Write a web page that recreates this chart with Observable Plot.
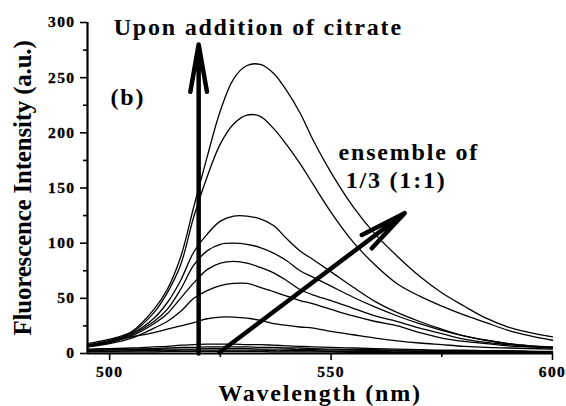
<!DOCTYPE html>
<html><head><meta charset="utf-8">
<script src="https://cdn.jsdelivr.net/npm/d3@7"></script>
<script src="https://cdn.jsdelivr.net/npm/@observablehq/plot@0.6"></script>
<style>body{margin:0;background:#fff}</style>
</head><body><div id="chart"></div>
<script>
const xDomain = [495, 600];
const yDomain = [0, 300];
const xMajorTicks = [500, 550, 600];
const xMinorTicks = [525, 575];
const yMajorTicks = [0, 50, 100, 150, 200, 250, 300];
const yMinorTicks = [25, 75, 125, 175, 225, 275];

const wavelength = [495, 500, 505, 510, 513, 516, 519, 522, 525, 528, 531, 534, 537, 540, 543, 546, 550, 555, 560, 565, 570, 575, 580, 585, 590, 595, 600];
const curve01 = [9, 13, 20, 40, 58, 87, 133, 178, 220, 249, 261, 262, 254, 238, 218, 193, 164, 133, 108, 88, 70, 55, 43, 32, 24, 19, 15];
const curve02 = [8, 12, 19, 37, 55, 80, 124, 160, 190, 208, 216, 215, 204, 189, 172, 153, 128, 101, 80, 63, 52, 43, 35, 28, 21, 16, 12];
const curve03 = [7, 11, 18, 32, 46, 66, 92, 108, 120, 124.5, 124.5, 122, 116, 104, 93, 85, 74, 60, 47, 37, 29, 22, 16, 12, 9, 7, 6];
const curve04 = [7, 10, 17, 29, 40, 58, 80, 93, 99, 100, 99, 96, 91, 84, 75, 69, 61, 51, 42, 34, 27, 21, 16, 12, 9, 7, 5.5];
const curve05 = [6, 10, 16, 27, 36, 50, 64, 76, 82, 83.5, 82, 78, 73, 66, 58, 53, 48, 41, 34, 29, 23, 18, 13, 10, 8, 6, 5];
const curve06 = [6, 9, 14, 23, 29, 38, 50, 57, 61.5, 63.5, 63.5, 60, 56, 52, 48, 45, 40, 34, 29, 25, 19, 14, 11, 9, 7, 6, 5];
const curve07 = [7, 11, 15, 19, 22, 25, 28, 31.5, 33, 33, 32, 30, 27, 25.5, 24, 23, 20, 17, 14, 11.5, 9.5, 8, 6.5, 5.5, 5, 4.5, 4];
const curve08 = [4, 4.5, 5, 6, 6.5, 7.5, 8, 8.5, 8.5, 8.5, 8, 8, 7.5, 7, 6.5, 6, 5.5, 5, 4.5, 4, 3.5, 3, 3, 2.5, 2.5, 2, 2];
const curve09 = [3, 3.5, 4, 4.5, 5, 5.5, 5.5, 6, 6, 6, 6, 5.5, 5.5, 5, 5, 4.5, 4, 3.5, 3.5, 3, 3, 2.5, 2.5, 2, 2, 2, 1.5];
const curve10 = [3, 3, 3.5, 3.5, 4, 4, 4, 4.5, 4.5, 4.5, 4.5, 4, 4, 4, 3.5, 3.5, 3, 3, 2.5, 2.5, 2, 2, 2, 1.5, 1.5, 1.5, 1.5];
const curve11 = [2, 2, 2.5, 2.5, 2.5, 3, 3, 3, 3, 3, 3, 3, 2.5, 2.5, 2.5, 2.5, 2, 2, 2, 1.5, 1.5, 1.5, 1, 1, 1, 1, 1];
const curve12 = [1.5, 1.5, 1.5, 1.5, 2, 2, 2, 2, 2, 2, 2, 2, 1.5, 1.5, 1.5, 1.5, 1.5, 1, 1, 1, 1, 1, 0.5, 0.5, 0.5, 0.5, 0.5];
const curves = [curve01, curve02, curve03, curve04, curve05, curve06, curve07, curve08, curve09, curve10, curve11, curve12];

const annotationText = ["Upon addition of citrate", "(b)", "ensemble of", "1/3 (1:1)"];
const annotationX = [500.9, 500.2, 551.7, 553.3];
const annotationY = [295.8, 232.5, 182.3, 156.8];

const arrowX1 = [520.1, 524.8];
const arrowY1 = [0, 0.9];
const arrowX2 = [520.1, 566.6];
const arrowY2 = [280, 127.2];

const xLabel = "Wavelength (nm)";
const yLabel = "Fluorescence Intensity (a.u.)";

const rows = curves.flatMap((vals, i) => vals.map((v, j) => ({wavelength: wavelength[j], intensity: v, series: i})));
const annotations = annotationText.map((t, i) => ({text: t, x: annotationX[i], y: annotationY[i]}));
const arrows = arrowX1.map((d, i) => ({x1: arrowX1[i], y1: arrowY1[i], x2: arrowX2[i], y2: arrowY2[i]}));

const font = "'Liberation Serif', 'Times New Roman', serif";
const txt = {fontFamily: font, fontWeight: "bold", fill: "black"};

const chart = Plot.plot({
  width: 566,
  height: 406,
  marginLeft: 87,
  marginRight: 14,
  marginTop: 22,
  marginBottom: 53,
  style: {fontFamily: font, fontWeight: "bold", background: "white", color: "black"},
  x: {domain: xDomain},
  y: {domain: yDomain},
  marks: [
    Plot.line(rows, {x: "wavelength", y: "intensity", z: "series", stroke: "black", strokeWidth: 1.3, curve: "catmull-rom"}),
    Plot.ruleX([xDomain[0]], {y1: yDomain[0], y2: yDomain[1], strokeWidth: 2.2}),
    Plot.ruleY([yDomain[0]], {x1: xDomain[0], x2: xDomain[1], strokeWidth: 2.2}),
    Plot.axisX(xMajorTicks, {tickSize: 7, strokeWidth: 1.6, tickFormat: () => "", label: null}),
    Plot.axisX(xMinorTicks, {tickSize: 4, strokeWidth: 1.6, tickFormat: () => "", label: null}),
    Plot.axisY(yMajorTicks, {tickSize: 7, strokeWidth: 1.6, tickFormat: () => "", label: null}),
    Plot.axisY(yMinorTicks, {tickSize: 4, strokeWidth: 1.6, tickFormat: () => "", label: null}),
    Plot.text(xMajorTicks, {x: d => d, y: yDomain[0], dy: 19, text: d => String(d), textAnchor: "middle", lineAnchor: "middle", fontSize: 15.5, stroke: "black", strokeWidth: 0.35, ...txt}),
    Plot.text(yMajorTicks, {x: xDomain[0], y: d => d, dx: -12, text: d => String(d), textAnchor: "end", lineAnchor: "middle", fontSize: 15.5, stroke: "black", strokeWidth: 0.35, ...txt}),
    Plot.arrow(arrows, {x1: "x1", y1: "y1", x2: "x2", y2: "y2", stroke: "black", strokeWidth: 4.5, headLength: 16, headAngle: 20}),
    Plot.text(annotations, {x: "x", y: "y", text: "text", textAnchor: "start", lineAnchor: "middle", fontSize: 24, ...txt}),
    Plot.text([xLabel], {frameAnchor: "bottom", textAnchor: "middle", lineAnchor: "middle", dy: 40, fontSize: 24, ...txt}),
    Plot.text([yLabel], {frameAnchor: "left", textAnchor: "middle", lineAnchor: "middle", rotate: -90, dx: -64.5, fontSize: 25, ...txt})
  ]
});

document.getElementById("chart").appendChild(chart);
const svg = d3.select(chart);
svg.selectAll("text").attr("font-family", font).attr("font-weight", "bold").attr("letter-spacing", "1.8px");
svg.selectAll("text").filter(function() { return /^\d+$/.test(this.textContent); }).attr("letter-spacing", "1.4px");
svg.selectAll("text").filter(function() { return this.textContent === yLabel; }).attr("letter-spacing", "-0.2px");
</script>
</body></html>
